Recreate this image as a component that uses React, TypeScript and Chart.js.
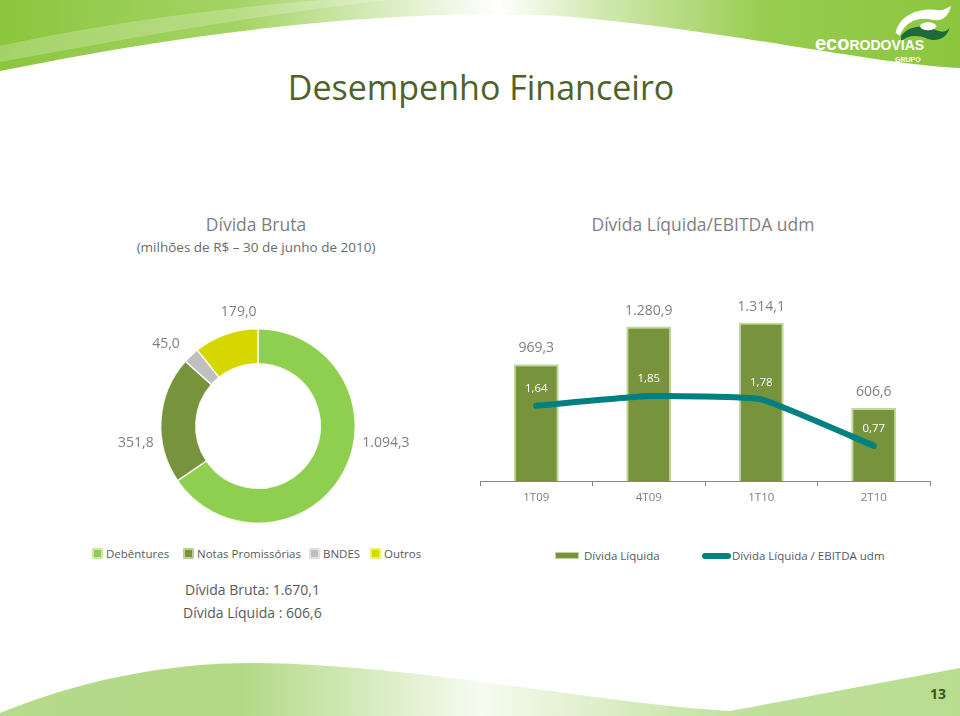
import React, { useEffect, useRef } from "react";
import { Chart, registerables } from "chart.js";

Chart.register(...registerables);

// ---------- data ----------
const debtCategories = ["Debêntures", "Notas Promissórias", "BNDES", "Outros"];
const debtValues = [1094.3, 351.8, 45.0, 179.0];
const debtColors = ["#8FCF4F", "#77933C", "#BFBFBF", "#D6D600"];

const quarters = ["1T09", "4T09", "1T10", "2T10"];
const netDebt = [969.3, 1280.9, 1314.1, 606.6];
const netDebtEbitda = [1.64, 1.85, 1.78, 0.77];

const FONT = "'Open Sans', 'DejaVu Sans', sans-serif";
const GREY = "#7F7F7F";

function fmtBR(v: number, d: number): string {
  const [i, f] = v.toFixed(d).split(".");
  const int = i.replace(/\B(?=(\d{3})+(?!\d))/g, ".");
  return f ? int + "," + f : int;
}

const doughnutLabels = {
  id: "doughnutLabels",
  afterDatasetsDraw(chart: any) {
    const ctx = chart.ctx;
    const meta = chart.getDatasetMeta(0);
    const data = chart.data.datasets[0].data as number[];
    const total = data.reduce((a, b) => a + b, 0);
    ctx.save();
    ctx.font = `14px ${FONT}`;
    ctx.fillStyle = GREY;
    ctx.textBaseline = "middle";
    meta.data.forEach((arc: any, i: number) => {
      const p = arc.getProps(["x", "y", "startAngle", "endAngle", "outerRadius"], true);
      const mid = (p.startAngle + p.endAngle) / 2;
      const frac = data[i] / total;
      const txt = fmtBR(data[i], 1);
      if (frac > 0.15) {
        const side = Math.cos(mid) >= 0 ? 1 : -1;
        ctx.textAlign = side > 0 ? "left" : "right";
        ctx.fillText(txt, p.x + side * (p.outerRadius + 7), p.y + 17);
      } else if (frac > 0.05) {
        // small slice near the top: label sits above the slice, toward its end
        const a = p.startAngle * 0.25 + p.endAngle * 0.75;
        const r = p.outerRadius + 18;
        ctx.textAlign = "center";
        ctx.fillText(txt, p.x + Math.cos(a) * r, p.y + Math.sin(a) * r);
      } else {
        const r = p.outerRadius + 26;
        ctx.textAlign = "center";
        ctx.fillText(txt, p.x + Math.cos(p.startAngle) * r, p.y + Math.sin(p.startAngle) * r);
      }
    });
    ctx.restore();
  },
};

const barLabels = {
  id: "barLabels",
  afterDatasetsDraw(chart: any) {
    const ctx = chart.ctx;
    ctx.save();
    ctx.textAlign = "center";
    ctx.textBaseline = "middle";
    const barMeta = chart.getDatasetMeta(1);
    ctx.font = `14px ${FONT}`;
    ctx.fillStyle = GREY;
    barMeta.data.forEach((bar: any, i: number) => {
      ctx.fillText(fmtBR(netDebt[i], 1), bar.x, bar.y - 16);
    });
    const lineMeta = chart.getDatasetMeta(0);
    ctx.font = `11.5px ${FONT}`;
    ctx.fillStyle = "#FFFFFF";
    lineMeta.data.forEach((pt: any, i: number) => {
      ctx.fillText(fmtBR(netDebtEbitda[i], 2), pt.x, pt.y - 17);
    });
    ctx.restore();
  },
};

function Doughnut() {
  const ref = useRef<HTMLCanvasElement>(null);
  useEffect(() => {
    const chart = new Chart(ref.current!, {
      type: "doughnut",
      data: {
        labels: debtCategories,
        datasets: [
          {
            data: debtValues,
            backgroundColor: debtColors,
            borderColor: "rgba(255,255,255,0.85)",
            borderWidth: 1.5,
          },
        ],
      },
      options: {
        responsive: false,
        animation: false,
        cutout: "64%",
        layout: { padding: { left: 80, right: 84, top: 38, bottom: 6 } },
        plugins: { legend: { display: false }, tooltip: { enabled: false } },
      },
      plugins: [doughnutLabels],
    });
    return () => chart.destroy();
  }, []);
  return (
    <canvas
      ref={ref}
      width={360}
      height={240}
      style={{ position: "absolute", left: 80, top: 290, width: 360, height: 240 }}
    />
  );
}

function Combo() {
  const ref = useRef<HTMLCanvasElement>(null);
  useEffect(() => {
    const chart = new Chart(ref.current!, {
      type: "bar",
      data: {
        labels: quarters,
        datasets: [
          {
            type: "line",
            label: "Dívida Líquida / EBITDA udm",
            data: netDebtEbitda,
            yAxisID: "y1",
            borderColor: "#008080",
            borderWidth: 6,
            borderCapStyle: "round",
            borderJoinStyle: "round",
            pointRadius: 0,
            tension: 0.12,
            order: 0,
          } as any,
          {
            type: "bar",
            label: "Dívida Líquida",
            data: netDebt,
            yAxisID: "y",
            backgroundColor: "#77933C",
            borderColor: "#C4D79B",
            borderWidth: { left: 2, right: 2, top: 2, bottom: 0 },
            categoryPercentage: 0.8,
            barPercentage: 0.5,
            order: 1,
          } as any,
        ],
      },
      options: {
        responsive: false,
        animation: false,
        layout: { padding: { left: 10, right: 10, top: 8, bottom: 0 } },
        plugins: { legend: { display: false }, tooltip: { enabled: false } },
        scales: {
          x: {
            grid: { drawOnChartArea: false, tickLength: 5, color: "#868686" },
            border: { color: "#868686", width: 1 },
            ticks: { color: GREY, font: { family: FONT, size: 11.5 }, padding: 5 },
          },
          y: { display: false, min: 0, max: 1600 },
          y1: { display: false, min: 0, max: 4.2, position: "right" },
        },
      },
      plugins: [barLabels],
    });
    return () => chart.destroy();
  }, []);
  return (
    <canvas
      ref={ref}
      width={470}
      height={230}
      style={{ position: "absolute", left: 470, top: 280, width: 470, height: 230 }}
    />
  );
}

const abs = (x: number, y: number, extra: React.CSSProperties = {}): React.CSSProperties => ({
  position: "absolute",
  left: x,
  top: y,
  transform: "translate(-50%, -50%)",
  whiteSpace: "nowrap",
  fontFamily: FONT,
  ...extra,
});

function LegendBox({ color }: { color: string }) {
  return (
    <span
      style={{
        display: "inline-block",
        width: 7,
        height: 7,
        background: color,
        border: "1px solid rgba(255,255,255,0.55)",
        boxShadow: `0 0 0 0.5px ${color}`,
        marginRight: 4,
        verticalAlign: "middle",
        position: "relative",
        top: -1,
      }}
    />
  );
}

function Header() {
  return (
    <svg width={960} height={80} style={{ position: "absolute", left: 0, top: 0 }}>
      <defs>
        <linearGradient id="hg" x1="0" y1="0" x2="1" y2="0">
          <stop offset="0" stopColor="#8BC63E" />
          <stop offset="0.25" stopColor="#A5D466" />
          <stop offset="0.44" stopColor="#E6F3D6" />
          <stop offset="0.52" stopColor="#FFFFFF" />
          <stop offset="0.62" stopColor="#D3EAB3" />
          <stop offset="0.8" stopColor="#97CC4E" />
          <stop offset="1" stopColor="#8CC63F" />
        </linearGradient>
      </defs>
      <path d="M0,0 L960,0 L960,68 C870,64 730,30 560,16 C400,8 200,30 0,71 Z" fill="url(#hg)" />
      <path d="M0,46 C90,26 200,10 320,0 L390,0 C260,14 120,40 0,62 Z" fill="#FFFFFF" opacity={0.22} />
      {/* logo emblem */}
      <g transform="translate(893,6) scale(1.35)">
        <path d="M2,20 C4,8 18,1 32,3 C38,4 40,1 43,0 C41,9 35,12 28,10 C18,8 9,12 5,22 Z" fill="#FFFFFF" />
        <path d="M6,22 C12,14 24,14 32,18 C37,20 40,19 42,16 C40,24 33,27 25,24 C17,21 11,22 6,26 Z" fill="#1D6B3A" />
        <ellipse cx={26} cy={15} rx={6} ry={3} fill="#FFFFFF" />
      </g>
      <text x={815} y={50} fill="#FFFFFF" fontFamily="'Liberation Sans', Arial, sans-serif" fontWeight="bold" fontSize={17}>
        <tspan fontSize={20}>eco</tspan>
        <tspan fontSize={14}>RODOVIAS</tspan>
      </text>
      <text x={895} y={62} fill="#FFFFFF" fontFamily="'Liberation Sans', Arial, sans-serif" fontWeight="bold" fontSize={7}>
        GRUPO
      </text>
    </svg>
  );
}

function Footer() {
  return (
    <svg width={960} height={60} style={{ position: "absolute", left: 0, top: 656 }}>
      <defs>
        <linearGradient id="fg" x1="0" y1="0" x2="1" y2="0">
          <stop offset="0" stopColor="#B5DB8B" />
          <stop offset="0.25" stopColor="#B2D985" />
          <stop offset="0.5" stopColor="#F6FBF0" />
          <stop offset="0.66" stopColor="#D6EBBD" />
          <stop offset="0.78" stopColor="#BEE09A" />
          <stop offset="1" stopColor="#B8DD8F" />
        </linearGradient>
      </defs>
      <path
        d="M0,57 C80,24 170,6 260,7 C420,9 600,48 730,55 L960,12 L960,60 L0,60 Z"
        fill="url(#fg)"
      />
      <text x={938} y={43} textAnchor="middle" fill="#375623" fontFamily={FONT} fontWeight="bold" fontSize={14}>
        13
      </text>
    </svg>
  );
}

export default function App() {
  useEffect(() => {
    document.body.style.margin = "0";
  }, []);
  const legendText: React.CSSProperties = { fontSize: 11.5, color: "#595959" };
  return (
    <div
      style={{
        position: "absolute",
        left: 0,
        top: 0,
        width: 960,
        height: 716,
        overflow: "hidden",
        background: "#FFFFFF",
        fontFamily: FONT,
      }}
    >
      <Header />
      <Footer />
      <div style={abs(481, 87, { fontSize: 34, color: "#4F6228" })}>Desempenho Financeiro</div>

      <div style={abs(256, 224, { fontSize: 17.5, color: GREY })}>Dívida Bruta</div>
      <div style={abs(256, 247, { fontSize: 13.5, color: "#6B6B6B" })}>
        (milhões de R$ – 30 de junho de 2010)
      </div>
      <div style={abs(703, 224, { fontSize: 17.5, color: GREY })}>Dívida Líquida/EBITDA udm</div>

      <Doughnut />
      <Combo />

      {/* doughnut legend */}
      {debtCategories.map((c, i) => {
        const xs = [93, 184, 310, 371];
        return (
          <div
            key={c}
            style={{
              position: "absolute",
              left: xs[i],
              top: 546,
              whiteSpace: "nowrap",
              ...legendText,
            }}
          >
            <LegendBox color={debtColors[i]} />
            {c}
          </div>
        );
      })}

      {/* combo legend */}
      <div style={{ position: "absolute", left: 555, top: 548, whiteSpace: "nowrap", ...legendText }}>
        <span
          style={{
            display: "inline-block",
            width: 22,
            height: 5,
            background: "#77933C",
            border: "1px solid #C4D79B",
            marginRight: 5,
            verticalAlign: "middle",
            position: "relative",
            top: -1,
          }}
        />
        Dívida Líquida
      </div>
      <div style={{ position: "absolute", left: 702, top: 548, whiteSpace: "nowrap", ...legendText }}>
        <span
          style={{
            display: "inline-block",
            width: 29,
            height: 6,
            borderRadius: 3,
            background: "#008080",
            marginRight: 1,
            verticalAlign: "middle",
            position: "relative",
            top: -1,
          }}
        />
        Dívida Líquida / EBITDA udm
      </div>

      <div style={{ position: "absolute", left: 185, top: 580, fontSize: 14, color: "#595959", whiteSpace: "nowrap" }}>
        Dívida Bruta: 1.670,1
      </div>
      <div style={{ position: "absolute", left: 183, top: 603, fontSize: 14, color: "#595959", whiteSpace: "nowrap" }}>
        Dívida Líquida : 606,6
      </div>
    </div>
  );
}
